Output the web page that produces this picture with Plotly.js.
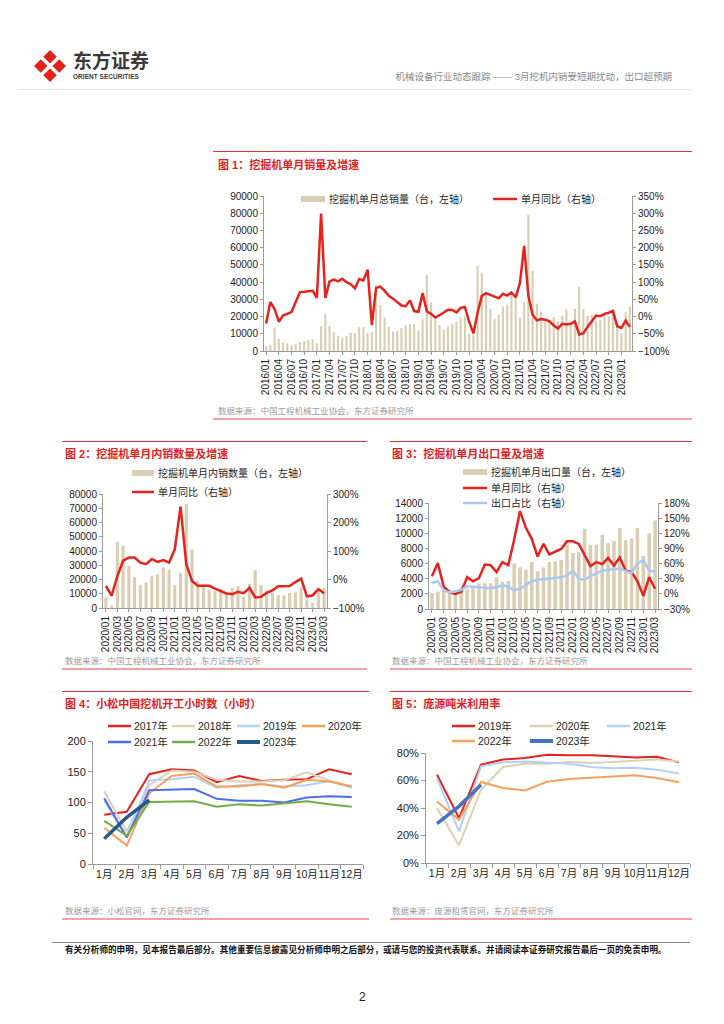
<!DOCTYPE html>
<html><head><meta charset="utf-8">
<script src="https://cdn.plot.ly/plotly-3.0.1.min.js"></script>
<style>
body{margin:0;width:724px;height:1024px;position:relative;background:#fff;font-family:"Liberation Sans","Noto Sans CJK SC",sans-serif;overflow:hidden}
.abs{position:absolute;white-space:nowrap}
.ttl{position:absolute;color:#E3211C;font-size:11px;font-weight:bold;white-space:nowrap;line-height:1}
.src{position:absolute;color:#9a9a9a;font-size:8.5px;white-space:nowrap;line-height:1}
.rt{position:absolute;height:1px;background:#E8332F}
.rb{position:absolute;height:2px;background:#F0A4A2}
.chart{position:absolute}
</style></head><body>

<svg class="abs" style="left:34px;top:50px" width="32" height="32" viewBox="0 0 32 32">
<path d="M16 0 L32 16 L16 32 L0 16Z" fill="#E2231A"/>
<path d="M5 5 L27 27 M27 5 L5 27" stroke="#fff" stroke-width="3.5"/>
</svg>
<div class="abs" style="left:73px;top:52px;font-size:19px;font-weight:bold;color:#3a3a3a;line-height:1">东方证券</div>
<div class="abs" style="left:73px;top:74px;font-size:6.4px;font-weight:bold;color:#3a3a3a;line-height:1;letter-spacing:0.1px">ORIENT SECURITIES</div>
<div class="abs" style="right:52px;top:72px;font-size:9.5px;color:#8a8a8a;line-height:1">机械设备行业动态跟踪 —— 3月挖机内销受短期扰动，出口超预期</div>
<div class="abs" style="left:18px;top:89px;width:674px;height:1px;background:#e2e2e2"></div>

<div class="rt" style="left:213px;top:151px;width:479px"></div>
<div class="ttl" style="left:218px;top:160px">图 1：挖掘机单月销量及增速</div>
<div id="c1" class="chart" style="left:213px;top:175px;width:479px;height:230px"></div>
<div class="src" style="left:218px;top:407px">数据来源：中国工程机械工业协会，东方证券研究所</div>
<div class="rb" style="left:213px;top:418px;width:479px"></div>

<div class="rt" style="left:62px;top:441px;width:305px"></div>
<div class="ttl" style="left:65px;top:449px">图 2：挖掘机单月内销数量及增速</div>
<div id="c2" class="chart" style="left:62px;top:462px;width:305px;height:193px"></div>
<div class="src" style="left:65px;top:657px">数据来源：中国工程机械工业协会，东方证券研究所</div>
<div class="rb" style="left:62px;top:668px;width:305px"></div>

<div class="rt" style="left:390px;top:441px;width:302px"></div>
<div class="ttl" style="left:392px;top:449px">图 3：挖掘机单月出口量及增速</div>
<div id="c3" class="chart" style="left:388px;top:462px;width:312px;height:193px"></div>
<div class="src" style="left:392px;top:657px">数据来源：中国工程机械工业协会，东方证券研究所</div>
<div class="rb" style="left:390px;top:668px;width:302px"></div>

<div class="rt" style="left:62px;top:691px;width:307px"></div>
<div class="ttl" style="left:65px;top:699px">图 4：小松中国挖机开工小时数（小时）</div>
<div id="c4" class="chart" style="left:62px;top:712px;width:307px;height:183px"></div>
<div class="src" style="left:65px;top:907px">数据来源：小松官网，东方证券研究所</div>
<div class="rb" style="left:62px;top:918px;width:307px"></div>

<div class="rt" style="left:390px;top:691px;width:302px"></div>
<div class="ttl" style="left:392px;top:699px">图 5：庞源吨米利用率</div>
<div id="c5" class="chart" style="left:388px;top:712px;width:310px;height:183px"></div>
<div class="src" style="left:392px;top:907px">数据来源：庞源租赁官网，东方证券研究所</div>
<div class="rb" style="left:390px;top:918px;width:302px"></div>

<div class="abs" style="left:52px;top:942px;width:638px;height:1px;background:#888"></div>
<div class="abs" style="left:65px;top:946px;font-size:8.6px;font-weight:bold;color:#111;line-height:1">有关分析师的申明，见本报告最后部分。其他重要信息披露见分析师申明之后部分，或请与您的投资代表联系。并请阅读本证券研究报告最后一页的免责申明。</div>
<div class="abs" style="left:359px;top:991px;font-size:12px;color:#222;line-height:1">2</div>

<script>
const F = '"Liberation Sans","Noto Sans CJK SC",sans-serif';

// ---------- Figure 1 data ----------
const months1 = [
"2016/01","2016/02","2016/03","2016/04","2016/05","2016/06","2016/07","2016/08","2016/09","2016/10","2016/11","2016/12",
"2017/01","2017/02","2017/03","2017/04","2017/05","2017/06","2017/07","2017/08","2017/09","2017/10","2017/11","2017/12",
"2018/01","2018/02","2018/03","2018/04","2018/05","2018/06","2018/07","2018/08","2018/09","2018/10","2018/11","2018/12",
"2019/01","2019/02","2019/03","2019/04","2019/05","2019/06","2019/07","2019/08","2019/09","2019/10","2019/11","2019/12",
"2020/01","2020/02","2020/03","2020/04","2020/05","2020/06","2020/07","2020/08","2020/09","2020/10","2020/11","2020/12",
"2021/01","2021/02","2021/03","2021/04","2021/05","2021/06","2021/07","2021/08","2021/09","2021/10","2021/11","2021/12",
"2022/01","2022/02","2022/03","2022/04","2022/05","2022/06","2022/07","2022/08","2022/09","2022/10","2022/11","2022/12",
"2023/01","2023/02","2023/03"];
const ticks1 = ["2016/01","2016/04","2016/07","2016/10","2017/01","2017/04","2017/07","2017/10","2018/01","2018/04","2018/07","2018/10",
"2019/01","2019/04","2019/07","2019/10","2020/01","2020/04","2020/07","2020/10","2021/01","2021/04","2021/07","2021/10",
"2022/01","2022/04","2022/07","2022/10","2023/01"];
const sales1 = [
2900,3500,13550,7000,5000,4450,3700,4260,5230,5800,6400,6800,
4450,14500,21500,14500,11000,8900,7750,8700,10450,10450,13900,13900,
10450,11000,38300,26700,19400,14100,11200,11600,13200,15100,15700,15700,
11800,18400,44100,28300,19400,15100,12200,14100,15700,17000,19400,19900,
10000,9400,49400,45100,32600,24400,18600,21000,25900,26900,31900,31200,
19600,28500,79000,46500,27500,22700,17500,17500,19700,17300,20500,24000,
15400,24500,37100,24500,20500,20800,17700,18000,21200,20100,23800,16700,
10500,22500,25700];
const yoy1 = [
-20,42,22,-15,3,7,13,42,71,72,73,75,
54,299,54,102,107,102,110,100,94,82,109,105,
136,-25,83,87,75,60,52,42,32,30,47,16,
14,68,15,8,-3,4,11,20,19,12,25,28,
-15,-49,11,60,68,63,57,53,66,61,70,56,
97,205,60,5,-11,-7,-9,-14,-26,-35,-21,-23,
-21,-14,-52,-48,-30,-15,3,1,8,11,16,-28,
-33,-12,-30];
const names1 = ["挖掘机单月总销量（台，左轴）","单月同比（右轴）"];

// ---------- Figure 2 / 3 data ----------
const months2 = [
"2020/01","2020/02","2020/03","2020/04","2020/05","2020/06","2020/07","2020/08","2020/09","2020/10","2020/11","2020/12",
"2021/01","2021/02","2021/03","2021/04","2021/05","2021/06","2021/07","2021/08","2021/09","2021/10","2021/11","2021/12",
"2022/01","2022/02","2022/03","2022/04","2022/05","2022/06","2022/07","2022/08","2022/09","2022/10","2022/11","2022/12",
"2023/01","2023/02","2023/03"];
const ticks2 = ["2020/01","2020/03","2020/05","2020/07","2020/09","2020/11","2021/01","2021/03","2021/05","2021/07","2021/09","2021/11",
"2022/01","2022/03","2022/05","2022/07","2022/09","2022/11","2023/01","2023/03"];
const dom2 = [
7500,1600,46500,43500,29500,21500,16000,18000,22500,23500,28500,27000,
16000,24500,73000,41000,19000,16500,12500,12000,13500,11000,14000,15500,
8000,17000,26500,16000,12000,11000,9000,9000,10500,11000,14500,6000,
3500,12500,14000];
const domYoy2 = [
-22,-57,12,66,77,77,59,54,72,62,68,59,
106,256,54,-5,-22,-21,-22,-32,-40,-49,-52,-43,
-48,-29,-63,-61,-47,-38,-24,-24,-23,-9,3,-59,
-56,-34,-48];
const names2 = ["挖掘机单月内销数量（台，左轴）","单月同比（右轴）"];

const exp3 = [
2100,2300,2500,2600,2200,2900,2600,3000,3400,3400,3400,4200,
3600,3700,6000,5500,5200,6200,5000,5500,6200,6300,6500,8500,
7400,7500,10600,8500,8500,9800,8700,9000,10700,9100,9300,10700,
7000,10000,11700];
const expYoy3 = [
35,61,15,3,0,4,33,25,31,58,57,43,
63,57,107,164,131,109,74,99,78,84,89,104,
104,99,76,55,63,59,71,56,72,46,43,25,
-4,33,10];
const expShare3 = [
22,25,7,3,5,8,15,14,13,13,11,13,
17,14,7,10,17,25,28,29.5,31,31,33,36,
47,29.5,28,35,40,46,48,49,50,45,41,61,
66.5,46,44];
const names3 = ["挖掘机单月出口量（台，左轴）","单月同比（右轴）","出口占比（右轴）"];

// ---------- Figure 4 / 5 data ----------
const monthsCN = ["1月","2月","3月","4月","5月","6月","7月","8月","9月","10月","11月","12月"];
const years4 = ["2017年","2018年","2019年","2020年","2021年","2022年","2023年"];
const hours2017 = [80,85,146,154,152,133,143,135,137,138,154,146];
const hours2018 = [118,53,128,152,150,137,134,134,136,149,136,126];
const hours2019 = [103,44,136,138,142,124,128,130,126,128,135,124];
const hours2020 = [59,30,115,143,147,126,126,130,124,137,134,126];
const hours2021 = [107,43,120,121,122,106,103,103,100,108,110,109];
const hours2022 = [70,46,101,101,102,93,97,95,99,102,97,93];
const hours2023 = [41,76,104];

const years5 = ["2019年","2020年","2021年","2022年","2023年"];
const util2019 = [64.2,32.7,71.5,75.2,76.4,78.8,78.3,78.3,77.6,76.8,77.3,73.2];
const util2020 = [40,12.8,53.3,69.8,72.2,72.2,73.5,72.7,73.5,74.4,75.2,73.9];
const util2021 = [61.8,23,70.3,73.2,73.9,73.2,72.2,69.8,69,69.3,67.9,65];
const util2022 = [44.8,31.5,58.9,54.5,52.8,59.1,61.1,61.8,63,63.8,61.8,58.7];
const util2023 = [28.6,41.2,57];

// ---------- styles ----------
const BEIGE = '#D9CEB2', RED = '#E5231E', LBLUE = '#A9C8F2', AXC = '#9a9a9a', TXT = '#222';

function legendLayer(items, L){
  const shapes=[], annotations=[];
  const px = x => (x - L.l)/L.w;
  const py = y => (L.t + L.h - y)/L.h;
  items.forEach(it=>{
    if(it.kind==='bar'){
      shapes.push({type:'rect',xref:'paper',yref:'paper',x0:px(it.x),x1:px(it.x+it.sw),
        y0:py(it.y+it.bh/2),y1:py(it.y-it.bh/2),fillcolor:it.color,line:{width:0}});
    } else {
      shapes.push({type:'line',xref:'paper',yref:'paper',x0:px(it.x),x1:px(it.x+it.sw),
        y0:py(it.y),y1:py(it.y),line:{color:it.color,width:it.lw}});
    }
    annotations.push({xref:'paper',yref:'paper',x:px(it.x+it.sw+it.gap),y:py(it.y),xanchor:'left',yanchor:'middle',
      showarrow:false,text:it.name,font:{size:it.fs,color:'#262626',family:F}});
  });
  return {shapes, annotations};
}
function axisBase(extra){
  return Object.assign({showline:true,linecolor:AXC,linewidth:1,ticks:'outside',ticklen:3,tickcolor:AXC,
    showgrid:false,zeroline:false,fixedrange:true,tickfont:{size:10,color:TXT,family:F}},extra);
}
const cfg = {staticPlot:true,displayModeBar:false};

// ---------- Figure 1 ----------
(function(){
  const L = {l:51,t:21,w:368,h:155};
  const lg = legendLayer([
    {kind:'bar',x:88,y:24,sw:24,bh:6,gap:2,color:BEIGE,name:names1[0],fs:10},
    {kind:'line',x:280,y:24,sw:24,lw:2.5,gap:2,color:RED,name:names1[1],fs:10}
  ], L);
  Plotly.newPlot('c1',[
    {type:'bar',x:months1,y:sales1,marker:{color:BEIGE},name:names1[0],yaxis:'y'},
    {type:'scatter',mode:'lines',x:months1,y:yoy1,line:{color:RED,width:2.5},name:names1[1],yaxis:'y2'}
  ],{
    width:479,height:230,margin:{l:L.l,r:60,t:L.t,b:54},
    paper_bgcolor:'rgba(0,0,0,0)',plot_bgcolor:'rgba(0,0,0,0)',
    font:{family:F,size:10,color:TXT},showlegend:false,bargap:0.5,
    xaxis:axisBase({type:'category',tickvals:ticks1,ticktext:ticks1,tickangle:-90,range:[-0.5,months1.length-0.5],tickfont:{size:10,color:TXT,family:F}}),
    yaxis:axisBase({range:[0,90000],dtick:10000,tickformat:'d'}),
    yaxis2:axisBase({overlaying:'y',side:'right',range:[-100,350],dtick:50,ticksuffix:'%'}),
    shapes:lg.shapes,annotations:lg.annotations
  },cfg);
})();

// ---------- Figure 2 ----------
(function(){
  const L = {l:41,t:32,w:224,h:114};
  const lg = legendLayer([
    {kind:'bar',x:70,y:11,sw:22,bh:6,gap:2,color:BEIGE,name:names2[0],fs:10},
    {kind:'line',x:70,y:30,sw:22,lw:2.5,gap:2,color:RED,name:names2[1],fs:10}
  ], L);
  Plotly.newPlot('c2',[
    {type:'bar',x:months2,y:dom2,marker:{color:BEIGE},name:names2[0],yaxis:'y'},
    {type:'scatter',mode:'lines',x:months2,y:domYoy2,line:{color:RED,width:2.5},name:names2[1],yaxis:'y2'}
  ],{
    width:305,height:193,margin:{l:L.l,r:40,t:L.t,b:47},
    paper_bgcolor:'rgba(0,0,0,0)',plot_bgcolor:'rgba(0,0,0,0)',
    font:{family:F,size:10,color:TXT},showlegend:false,bargap:0.45,
    xaxis:axisBase({type:'category',tickvals:ticks2,ticktext:ticks2,tickangle:-90,range:[-0.5,months2.length-0.5]}),
    yaxis:axisBase({range:[0,80000],dtick:10000,tickformat:'d'}),
    yaxis2:axisBase({overlaying:'y',side:'right',range:[-100,300],dtick:100,ticksuffix:'%'}),
    shapes:lg.shapes,annotations:lg.annotations
  },cfg);
})();

// ---------- Figure 3 ----------
(function(){
  const L = {l:41,t:41,w:229,h:106};
  const lg = legendLayer([
    {kind:'bar',x:75,y:10,sw:24,bh:6,gap:2,color:BEIGE,name:names3[0],fs:10},
    {kind:'line',x:75,y:26,sw:24,lw:2.5,gap:2,color:RED,name:names3[1],fs:10},
    {kind:'line',x:75,y:41,sw:24,lw:2.5,gap:2,color:LBLUE,name:names3[2],fs:10}
  ], L);
  Plotly.newPlot('c3',[
    {type:'bar',x:months2,y:exp3,marker:{color:BEIGE},name:names3[0],yaxis:'y'},
    {type:'scatter',mode:'lines',x:months2,y:expYoy3,line:{color:RED,width:2.5},name:names3[1],yaxis:'y2'},
    {type:'scatter',mode:'lines',x:months2,y:expShare3,line:{color:LBLUE,width:2.5},name:names3[2],yaxis:'y2'}
  ],{
    width:312,height:193,margin:{l:L.l,r:42,t:L.t,b:46},
    paper_bgcolor:'rgba(0,0,0,0)',plot_bgcolor:'rgba(0,0,0,0)',
    font:{family:F,size:10,color:TXT},showlegend:false,bargap:0.4,
    xaxis:axisBase({type:'category',tickvals:ticks2,ticktext:ticks2,tickangle:-90,range:[-0.5,months2.length-0.5]}),
    yaxis:axisBase({range:[0,14000],dtick:2000,tickformat:'d'}),
    yaxis2:axisBase({overlaying:'y',side:'right',range:[-30,180],dtick:30,ticksuffix:'%'}),
    shapes:lg.shapes,annotations:lg.annotations
  },cfg);
})();

// ---------- Figure 4 ----------
(function(){
  const L = {l:31,t:29,w:270,h:123};
  const series = [hours2017,hours2018,hours2019,hours2020,hours2021,hours2022,hours2023];
  const colors = [RED,'#DCD0B6','#B3D0F4','#F7A05A','#4A6EEA','#74AB48','#265A86'];
  const widths = [2,2,2,2,2,2,3.5];
  const pos = [[46,14],[110,14],[175,14],[240,14],[46,30],[110,30],[175,30]];
  const lg = legendLayer(years4.map((n,i)=>({kind:'line',x:pos[i][0],y:pos[i][1],sw:23,lw:widths[i]+0.5,gap:1,color:colors[i],name:n,fs:10.5})), L);
  const traces = series.map((s,i)=>({type:'scatter',mode:'lines',x:monthsCN.slice(0,s.length),y:s,name:years4[i],
    line:{color:colors[i],width:widths[i]}}));
  Plotly.newPlot('c4',traces,{
    width:307,height:183,margin:{l:L.l,r:6,t:L.t,b:31},
    paper_bgcolor:'rgba(0,0,0,0)',plot_bgcolor:'rgba(0,0,0,0)',
    font:{family:F,size:11,color:TXT},showlegend:false,
    xaxis:axisBase({type:'category',categoryorder:'array',categoryarray:monthsCN,range:[-0.5,11.5],tickson:'boundaries',ticklen:4,tickangle:0,tickfont:{size:10.5,color:TXT,family:F}}),
    yaxis:axisBase({range:[0,200],dtick:50,ticklen:4,tickfont:{size:11,color:TXT,family:F}}),
    shapes:lg.shapes,annotations:lg.annotations
  },cfg);
})();

// ---------- Figure 5 ----------
(function(){
  const L = {l:38,t:41,w:264,h:110};
  const series = [util2019,util2020,util2021,util2022,util2023];
  const colors = [RED,'#DCD0B6','#B3D0F4','#F7A05A','#4472C4'];
  const widths = [2,2,2,2,3.5];
  const pos = [[64,14],[142,14],[219,14],[64,29],[142,29]];
  const lg = legendLayer(years5.map((n,i)=>({kind:'line',x:pos[i][0],y:pos[i][1],sw:23,lw:widths[i]+0.5,gap:1,color:colors[i],name:n,fs:10.5})), L);
  const traces = series.map((s,i)=>({type:'scatter',mode:'lines',x:monthsCN.slice(0,s.length),y:s,name:years5[i],
    line:{color:colors[i],width:widths[i]}}));
  Plotly.newPlot('c5',traces,{
    width:310,height:183,margin:{l:L.l,r:8,t:L.t,b:32},
    paper_bgcolor:'rgba(0,0,0,0)',plot_bgcolor:'rgba(0,0,0,0)',
    font:{family:F,size:11,color:TXT},showlegend:false,
    xaxis:axisBase({type:'category',categoryorder:'array',categoryarray:monthsCN,range:[-0.5,11.5],tickson:'boundaries',ticklen:4,tickangle:0,tickfont:{size:10.5,color:TXT,family:F}}),
    yaxis:axisBase({range:[0,80],dtick:20,ticksuffix:'%',ticklen:4,tickfont:{size:11,color:TXT,family:F}}),
    shapes:lg.shapes,annotations:lg.annotations
  },cfg);
})();
</script>
</body></html>
